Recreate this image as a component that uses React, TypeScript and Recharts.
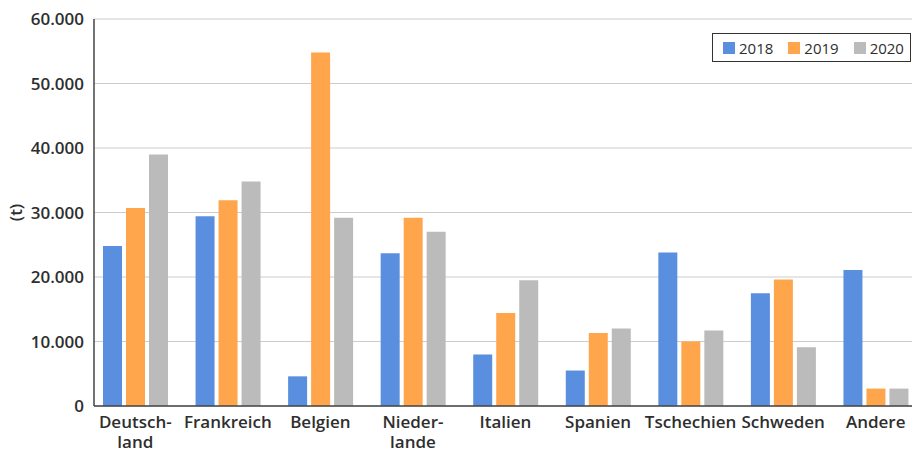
import { BarChart, Bar, XAxis, YAxis, CartesianGrid, Legend, Label } from 'recharts'

const categories = ['Deutsch-\nland', 'Frankreich', 'Belgien', 'Nieder-\nlande', 'Italien', 'Spanien', 'Tschechien', 'Schweden', 'Andere']
const values2018 = [24800, 29400, 4600, 23700, 8000, 5500, 23800, 17500, 21100]
const values2019 = [30700, 31900, 54800, 29200, 14400, 11300, 10000, 19600, 2700]
const values2020 = [39000, 34800, 29200, 27000, 19500, 12000, 11700, 9100, 2700]
const yTicks = [0, 10000, 20000, 30000, 40000, 50000, 60000]

const series = [
  { key: 'y2018', name: '2018', color: '#5a8fe0' },
  { key: 'y2019', name: '2019', color: '#ffa64d' },
  { key: 'y2020', name: '2020', color: '#bbbbbb' },
]

const data = categories.map((land, i) => ({
  land,
  y2018: values2018[i],
  y2019: values2019[i],
  y2020: values2020[i],
}))

const FONT = '"Open Sans", "DejaVu Sans", sans-serif'
const TEXT = '#2e2e2e'

// German thousands separator: 60000 -> "60.000"
const fmt = (n: number) => String(n).replace(/\B(?=(\d{3})+(?!\d))/g, '.')

const LandTick = (props: any) => {
  const { x, y, payload } = props
  const lines = String(payload.value).split('\n')
  return (
    <text x={x} y={y} textAnchor="middle" fill={TEXT} fontFamily={FONT} fontSize={17} fontWeight={600}>
      {lines.map((l, i) => (
        <tspan key={i} x={x} dy={i === 0 ? 14 : 20}>
          {l}
        </tspan>
      ))}
    </text>
  )
}

const LegendBox = () => (
  <div
    style={{
      display: 'flex',
      alignItems: 'center',
      boxSizing: 'border-box',
      width: 199,
      height: 29,
      border: '1.5px solid #333',
      background: '#fff',
      paddingLeft: 10,
      fontFamily: FONT,
      fontSize: 15,
      color: TEXT,
    }}
  >
    {series.map((s) => (
      <span key={s.key} style={{ display: 'flex', alignItems: 'center', marginRight: 15 }}>
        <span style={{ width: 12, height: 12, background: s.color, marginRight: 4 }} />
        {s.name}
      </span>
    ))}
  </div>
)

const UnitLabel = (props: any) => {
  const { viewBox } = props
  const cy = viewBox.y + viewBox.height / 2
  return (
    <text
      x={15}
      y={cy}
      transform={`rotate(-90 15 ${cy})`}
      textAnchor="middle"
      dominantBaseline="central"
      fill={TEXT}
      fontFamily={FONT}
      fontSize={17}
      fontWeight={600}
    >
      (t)
    </text>
  )
}

export default function App() {
  return (
    <div style={{ position: 'fixed', left: 0, top: 0, width: 912, height: 450, overflow: 'hidden', background: '#fff' }}>
      <BarChart
        width={930}
        height={450}
        data={data}
        margin={{ top: 19, right: 8, bottom: 4, left: 0 }}
        barSize={19}
        barGap={4}
      >
        <CartesianGrid vertical={false} stroke="#cccccc" />
        <XAxis
          dataKey="land"
          interval={0}
          height={40}
          padding={{ left: -5, right: 0 }}
          tickLine={false}
          axisLine={{ stroke: '#444', strokeWidth: 1.5 }}
          tick={<LandTick />}
        />
        <YAxis
          width={94}
          domain={[0, 60000]}
          ticks={yTicks}
          interval={0}
          tickFormatter={fmt}
          tickLine={false}
          tickMargin={4}
          axisLine={{ stroke: '#444', strokeWidth: 1.5 }}
          tick={{ fill: TEXT, fontFamily: FONT, fontSize: 17, fontWeight: 600 }}
        >
          <Label content={<UnitLabel />} />
        </YAxis>
        <Legend
          layout="horizontal"
          verticalAlign="middle"
          align="center"
          content={<LegendBox />}
          wrapperStyle={{ position: 'absolute', left: 712, top: 33, width: 199, height: 29 }}
        />
        {series.map((s) => (
          <Bar key={s.key} dataKey={s.key} name={s.name} fill={s.color} isAnimationActive={false} />
        ))}
      </BarChart>
    </div>
  )
}
